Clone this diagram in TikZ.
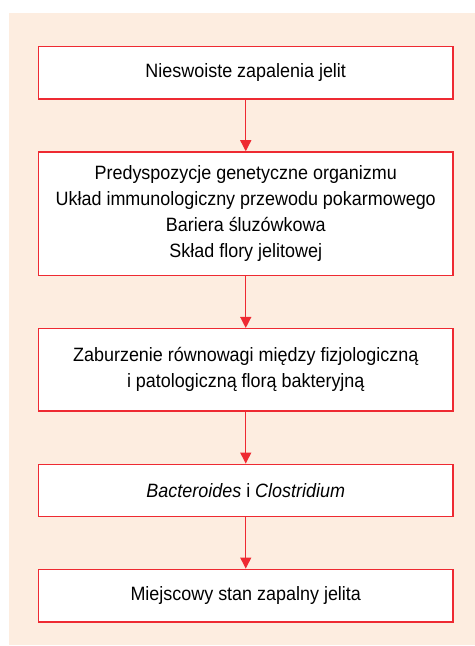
\documentclass[tikz,border=0pt]{standalone}
\usepackage{fontspec}
\setmainfont[FakeStretch=0.93]{Liberation Sans}
\usetikzlibrary{arrows.meta}

\definecolor{fondo}{HTML}{FDEDE0}
\definecolor{rojo}{HTML}{EE2A32}

\tikzset{
    caja/.style={draw=rojo, line width=1.5bp, fill=white, minimum width=414.5bp,
        inner sep=0pt, align=center, font=\fontsize{19.3bp}{26bp}\selectfont},
    flecha/.style={draw=rojo, line width=1.3bp, -{Triangle[width=11bp,length=11bp]}}
}

\begin{document}
\begin{tikzpicture}[x=1bp, y=-1bp]
    % Fondo
    \useasboundingbox (0,0) rectangle (475,646);
    \fill[fondo] (9,13) rectangle (475,645);

    % Cajas
    \node[caja, minimum height=52.3bp] (nieswoiste) at (245.75,72.85) {Nieswoiste zapalenia jelit};
    \node[caja, minimum height=123.3bp] (czynniki) at (245.75,213.65) {Predyspozycje genetyczne organizmu\\Układ immunologiczny przewodu pokarmowego\\Bariera śluzówkowa\\Skład flory jelitowej};
    \node[caja, minimum height=82.3bp] (zaburzenie) at (245.75,369.85) {Zaburzenie równowagi między fizjologiczną\\i patologiczną florą bakteryjną};
    \node[caja, minimum height=52.4bp] (bakterie) at (245.75,490.5) {\textit{Bacteroides} i \textit{Clostridium}};
    \node[caja, minimum height=52.7bp] (stan) at (245.75,595.65) {Miejscowy stan zapalny jelita};

    % Flechas
    \draw[flecha] (nieswoiste) -- (czynniki);
    \draw[flecha] (czynniki) -- (zaburzenie);
    \draw[flecha] (zaburzenie) -- (bakterie);
    \draw[flecha] (bakterie) -- (stan);
\end{tikzpicture}
\end{document}
